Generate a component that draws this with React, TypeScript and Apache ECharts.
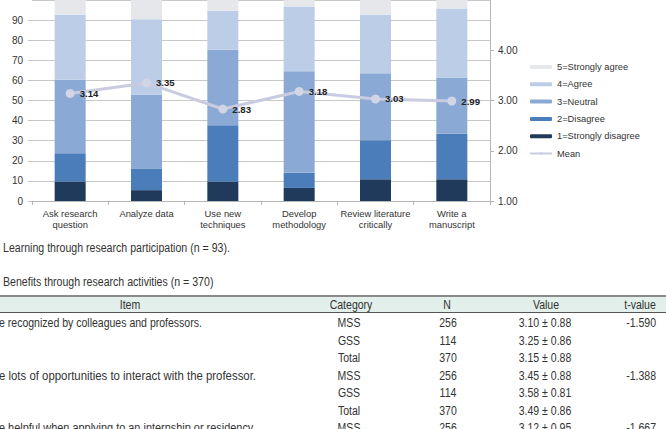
import React, { useEffect, useRef } from "react";
import * as echarts from "echarts";

const categories = [
  "Ask research\nquestion",
  "Analyze data",
  "Use new\ntechniques",
  "Develop\nmethodology",
  "Review literature\ncritically",
  "Write a\nmanuscript",
];
const stronglyDisagree = [9.7, 5.4, 9.7, 6.5, 10.8, 10.8];
const disagree = [14.0, 10.8, 28.0, 7.5, 19.4, 22.6];
const neutral = [36.6, 36.6, 37.6, 50.5, 33.3, 28.0];
const agree = [32.3, 37.6, 19.4, 32.3, 29.0, 34.4];
const stronglyAgree = [7.5, 9.7, 5.4, 3.2, 7.5, 4.3];
const meanValues = [3.14, 3.35, 2.83, 3.18, 3.03, 2.99];

const caption1 = "Learning through research participation (n = 93).";
const caption2 = "Benefits through research activities (n = 370)";
const tableHeaders = ["Item", "Category", "N", "Value", "t-value"];
const tableItems = [
  "e recognized by colleagues and professors.",
  "",
  "",
  "e lots of opportunities to interact with the professor.",
  "",
  "",
  "e helpful when applying to an internship or residency.",
];
const tableCategory = ["MSS", "GSS", "Total", "MSS", "GSS", "Total", "MSS"];
const tableN = ["256", "114", "370", "256", "114", "370", "256"];
const tableValue = ["3.10 ± 0.88", "3.25 ± 0.86", "3.15 ± 0.88", "3.45 ± 0.88", "3.58 ± 0.81", "3.49 ± 0.86", "3.12 ± 0.95"];
const tableT = ["-1.590", "", "", "-1.388", "", "", "-1.667"];

const COLORS = ["#1f3a5a", "#4a7dba", "#8aa9d4", "#bccde7", "#e5e7eb"];
const SANS = "'Liberation Sans', Arial, sans-serif";
const TFONT = `13.5px ${SANS}`;
const itemWidths = [203, 0, 0, 257, 0, 0, 257];

function measure(text: string, font: string): number {
  const c = document.createElement("canvas").getContext("2d");
  if (!c) return text.length * 7;
  c.font = font;
  return c.measureText(text).width;
}

export default function App() {
  const ref = useRef<HTMLDivElement>(null);
  useEffect(() => {
    if (!ref.current) return;
    const chart = echarts.init(ref.current, null, { renderer: "svg" });

    const names = ["1=Strongly disagree", "2=Disagree", "3=Neutral", "4=Agree", "5=Strongly agree"];
    const datasets = [stronglyDisagree, disagree, neutral, agree, stronglyAgree];
    const barSeries = datasets.map((d, i) => ({
      name: names[i],
      type: "bar",
      stack: "total",
      data: d,
      barWidth: 31,
      itemStyle: { color: COLORS[i] },
      yAxisIndex: 0,
    }));

    const capScale = 227 / measure(caption1, TFONT);
    const tScale = 203 / measure(tableItems[0], TFONT);
    const txt = (text: string, x: number, y: number, align: string, sx: number) => ({
      type: "text",
      x,
      y,
      scaleX: sx,
      style: { text, font: TFONT, fill: "#333", align, verticalAlign: "middle" },
    });

    const rowY = [323, 340.5, 358, 375.5, 393, 410.5, 428];
    const graphics: any[] = [
      txt(caption1, 3, 248, "left", capScale),
      txt(caption2, 3, 282, "left", capScale),
      { type: "rect", shape: { x: 0, y: 296, width: 666, height: 16 }, style: { fill: "#e2efeb" } },
      { type: "line", shape: { x1: 0, y1: 296, x2: 666, y2: 296 }, style: { stroke: "#8a8a8a", lineWidth: 2 } },
      { type: "line", shape: { x1: 0, y1: 312.5, x2: 666, y2: 312.5 }, style: { stroke: "#555", lineWidth: 1 } },
    ];
    const headerX = [130, 351, 447, 546, 640];
    tableHeaders.forEach((h, i) => graphics.push(txt(h, headerX[i], 304.5, "center", tScale)));
    rowY.forEach((y, r) => {
      if (tableItems[r]) {
        const s = itemWidths[r] / measure(tableItems[r], TFONT);
        graphics.push(txt(tableItems[r], -1, y, "left", s));
      }
      graphics.push(txt(tableCategory[r], 349, y, "center", tScale));
      graphics.push(txt(tableN[r], 448, y, "center", tScale));
      graphics.push(txt(tableValue[r], 545, y, "center", tScale));
      if (tableT[r]) graphics.push(txt(tableT[r], 656, y, "right", tScale));
    });

    chart.setOption({
      animation: false,
      backgroundColor: "#fff",
      textStyle: { fontFamily: SANS },
      grid: { left: 32, right: 176, top: -4, bottom: 228, containLabel: false },
      legend: {
        orient: "vertical",
        left: 529,
        top: 61,
        padding: 0,
        itemWidth: 22,
        itemHeight: 4,
        itemGap: 5.3,
        textStyle: { fontSize: 9.3, color: "#333", fontFamily: SANS, lineHeight: 12 },
        data: ["5=Strongly agree", "4=Agree", "3=Neutral", "2=Disagree", "1=Strongly disagree", "Mean"],
      },
      xAxis: {
        type: "category",
        data: categories,
        axisLine: { lineStyle: { color: "#b5b5b5" } },
        axisTick: { show: true, length: 4, lineStyle: { color: "#b5b5b5" } },
        axisLabel: { fontSize: 9.4, color: "#333", lineHeight: 11, margin: 7, interval: 0 },
      },
      yAxis: [
        {
          type: "value",
          min: 0,
          max: 100,
          interval: 10,
          axisLine: { show: false },
          axisTick: { show: true, length: 4, lineStyle: { color: "#c3c3c3" } },
          axisLabel: { fontSize: 10, color: "#333", margin: 9, showMaxLabel: false },
          splitLine: { lineStyle: { color: "#c8c8c8" } },
        },
        {
          type: "value",
          min: 1,
          max: 5,
          interval: 1,
          position: "right",
          axisLine: { show: true, lineStyle: { color: "#b5b5b5" } },
          axisTick: { show: true, length: 4, lineStyle: { color: "#b5b5b5" } },
          axisLabel: { fontSize: 10, color: "#333", margin: 8, formatter: (v: number) => v.toFixed(2), showMaxLabel: false },
          splitLine: { show: false },
        },
      ],
      series: [
        ...barSeries,
        {
          name: "Mean",
          type: "line",
          yAxisIndex: 1,
          data: meanValues,
          symbol: "circle",
          symbolSize: 9,
          lineStyle: { color: "#c9cce0", width: 3 },
          itemStyle: { color: "#d2d5e5" },
          label: {
            show: true,
            position: "right",
            distance: 5,
            fontSize: 9.6,
            fontWeight: "bold",
            color: "#222",
            formatter: (p: any) => Number(p.value).toFixed(2),
          },
          z: 5,
        },
      ],
      graphic: graphics,
    });
    return () => chart.dispose();
  }, []);
  return <div ref={ref} style={{ position: "absolute", left: 0, top: 0, width: 666, height: 429 }} />;
}
